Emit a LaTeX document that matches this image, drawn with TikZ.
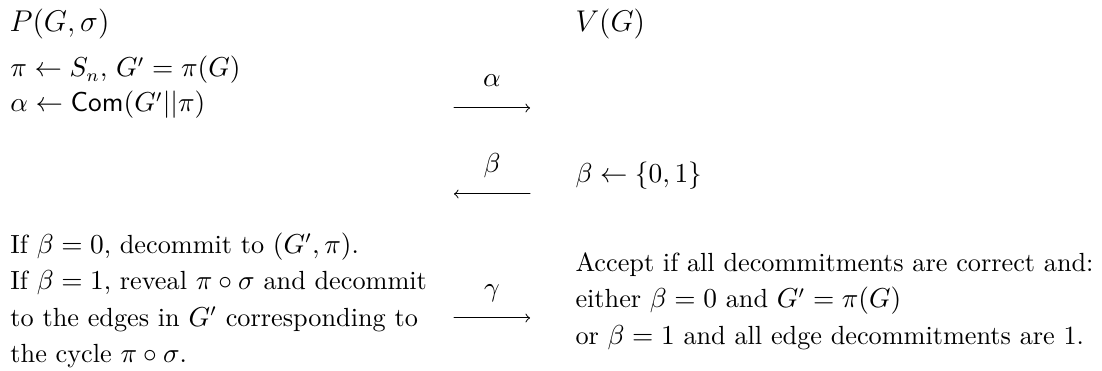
\documentclass[tikz,border=0pt]{standalone}
\usepackage{amsmath,amssymb}
\begin{document}
\begin{tikzpicture}[x=0.4pt, y=-0.4pt, line join=round, line cap=round, >=to,
  txt/.style={anchor=base west, inner sep=0pt, font=\fontsize{10.5}{13}\selectfont},
  head/.style={anchor=base west, inner sep=0pt, font=\fontsize{12}{15}\selectfont},
  msg/.style={anchor=base, inner sep=0pt, yshift=8.4pt, font=\fontsize{10.5}{13}\selectfont}]
\useasboundingbox (0,0) rectangle (1102,371);
\path
(9,32) coordinate (P)
(575,32) coordinate (V);
\node[head] (prover) at (P) {$P(G,\sigma)$};
\node[head] (verifier) at (V) {$V(G)$};
% prover, one node per line
\node[txt] (com1) at (10,77) {$\pi \leftarrow S_n$, $G' = \pi(G)$};
\node[txt] (com2) at (10,112) {$\alpha \leftarrow \mathsf{Com}(G'||\pi)$};
\foreach [count=\i] \l in {{If $\beta = 0$, decommit to $(G',\pi)$.},
  {If $\beta = 1$, reveal $\pi\circ\sigma$ and decommit},
  {to the edges in $G'$ corresponding to},
  {the cycle $\pi\circ\sigma$.}}
\node[txt] (resp\i) at (10,{253.5+36.5*(\i-1)}) {\l};
% verifier
\node[txt] (chal) at (575,183) {$\beta \leftarrow \{0,1\}$};
\foreach [count=\i] \l in {{Accept if all decommitments are correct and:},
  {either $\beta = 0$ and $G' = \pi(G)$},
  {or $\beta = 1$ and all edge decommitments are 1.}}
\node[txt] (check\i) at (575,{271.5+36.5*(\i-1)}) {\l};
% messages
\foreach \n/\y in {a/108,b/194,c/318}
\path (454,\y) coordinate (\n l) (530,\y) coordinate (\n r);
\foreach \s/\t/\m in {al/ar/\alpha,br/bl/\beta,cl/cr/\gamma}
\draw[->] (\s) -- node[msg]{$\m$} (\t);
\end{tikzpicture}
\end{document}
